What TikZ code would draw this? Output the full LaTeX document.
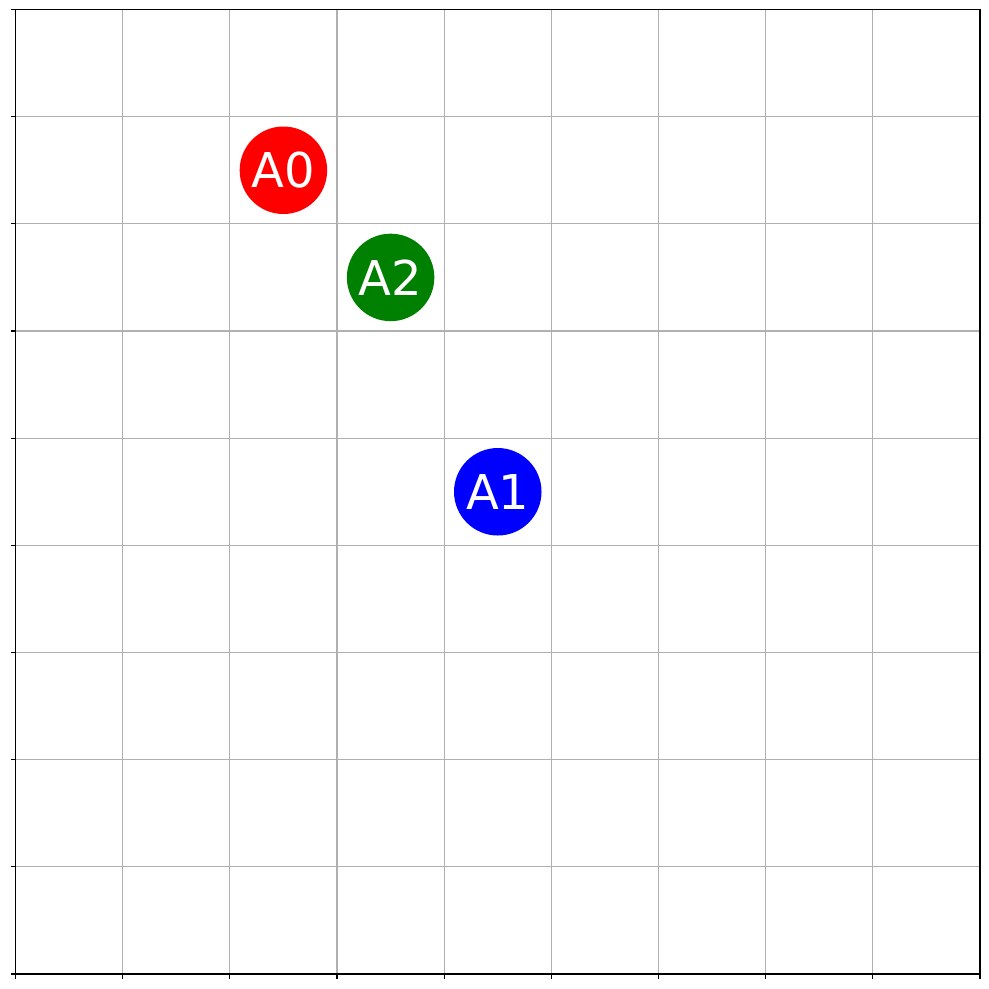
\documentclass[tikz,border=0pt]{standalone}
\usepackage{fontspec}
\setmainfont{DejaVu Sans}
\begin{document}
\begin{tikzpicture}[x=1pt,y=-1pt,
  gridline/.style={draw=black!31, line width=1.1pt},
  frameline/.style={draw=black, line width=1.1pt, line cap=rect},
  tickline/.style={draw=black, line width=1.1pt},
  agent/.style={circle, minimum size=87.5pt, inner sep=0pt, text=white,
     font=\fontsize{48}{48}\selectfont}]
\useasboundingbox (0,0) rectangle (989,989);
\fill[white] (0,0) rectangle (989,989);
\def\xo{15.5}\def\yo{9.5}\def\cs{107.17}
% grid
\foreach \k in {1,...,8}{
  \draw[gridline] ({\xo+\k*\cs},\yo) -- ({\xo+\k*\cs},{\yo+9*\cs});
  \draw[gridline] (\xo,{\yo+\k*\cs}) -- ({\xo+9*\cs},{\yo+\k*\cs});
}
% ticks
\foreach \k in {0,...,9}{
  \draw[tickline] ({\xo+\k*\cs},{\yo+9*\cs}) -- ({\xo+\k*\cs},{\yo+9*\cs+5});
  \draw[tickline] (\xo,{\yo+\k*\cs}) -- ({\xo-5},{\yo+\k*\cs});
}
% frame
\draw[frameline] (\xo,\yo) rectangle ({\xo+9*\cs},{\yo+9*\cs});
% agents
\node[agent, fill=red] (a0) at ({\xo+2.5*\cs},{\yo+1.5*\cs}) {A0};
\node[agent, fill=black!50!green] (a2) at ({\xo+3.5*\cs},{\yo+2.5*\cs}) {A2};
\node[agent, fill=blue] (a1) at ({\xo+4.5*\cs},{\yo+4.5*\cs}) {A1};
\end{tikzpicture}
\end{document}
